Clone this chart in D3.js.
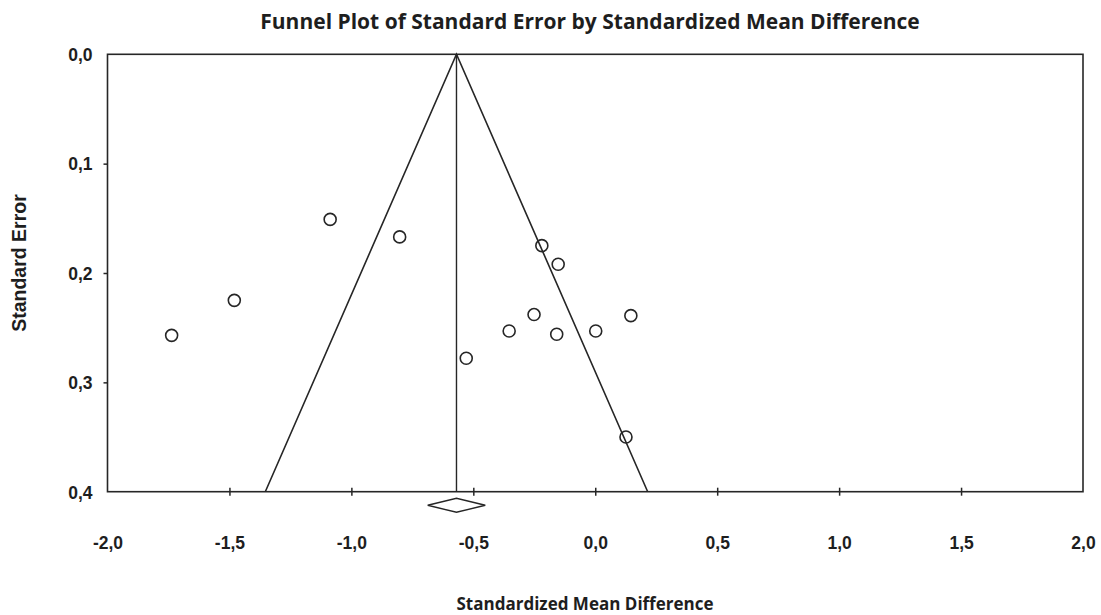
<!DOCTYPE html>
<html>
<head>
<meta charset="utf-8">
<script src="https://cdn.jsdelivr.net/npm/d3@7"></script>
<style>
  body { margin: 0; background: #fff; }
  svg { display: block; }
</style>
</head>
<body>
<div id="chart"></div>
<script>
// study effects (SMD) and their standard errors
const smd = [-1.737, -1.480, -1.087, -0.802, -0.219, -0.152, -0.251, -0.353, -0.158, 0.002, 0.146, -0.529, 0.126];
const stdErr = [0.257, 0.225, 0.151, 0.167, 0.175, 0.192, 0.238, 0.253, 0.256, 0.253, 0.239, 0.278, 0.350];
const pooled = -0.569;
const pooledCI = [-0.687, -0.451];
const xTicks = [-2.0, -1.5, -1.0, -0.5, 0.0, 0.5, 1.0, 1.5, 2.0];
const yTicks = [0.0, 0.1, 0.2, 0.3, 0.4];

const width = 1101, height = 615;
const margin = { top: 54.3, right: 18, bottom: 123.3, left: 107.5 };
const innerW = width - margin.left - margin.right;
const innerH = height - margin.top - margin.bottom;
const ink = "#262626";
const comma = d => d3.format(".1f")(d).replace(".", ",").replace("−", "-");

const svg = d3.select("#chart").append("svg")
  .attr("width", width)
  .attr("height", height);

const x = d3.scaleLinear().domain([-2, 2]).range([0, innerW]);
const y = d3.scaleLinear().domain([0, 0.4]).range([0, innerH]);

const g = svg.append("g")
  .attr("transform", `translate(${margin.left},${margin.top})`);

// frame
g.append("rect")
  .attr("width", innerW)
  .attr("height", innerH)
  .attr("fill", "none")
  .attr("stroke", ink)
  .attr("stroke-width", 1.6);

// bottom axis: short ticks crossing the line
const xAxis = g.append("g")
  .attr("transform", `translate(0,${innerH})`)
  .call(d3.axisBottom(x).tickValues(xTicks).tickSize(4).tickFormat(comma));
xAxis.select(".domain").remove();
xAxis.selectAll(".tick line").attr("y1", -4).attr("stroke", ink).attr("stroke-width", 1.5);
xAxis.selectAll(".tick text")
  .attr("y", 57)
  .attr("dy", 0)
  .style("font-family", "'Liberation Sans', Arial, sans-serif")
  .style("font-size", "17.5px")
  .style("font-weight", "bold")
  .attr("fill", "#1e1e1e");
xAxis.selectAll(".tick").filter(d => d === -2 || d === 2).select("line").remove();

const yAxis = g.append("g")
  .call(d3.axisLeft(y).tickValues(yTicks).tickSize(4).tickFormat(comma));
yAxis.select(".domain").remove();
yAxis.selectAll(".tick line").attr("stroke", ink).attr("stroke-width", 1.5);
yAxis.selectAll(".tick").filter(d => d === 0 || d === 0.4).select("line").remove();
yAxis.selectAll(".tick text")
  .attr("x", -15)
  .attr("dy", "0.36em")
  .style("font-family", "'Liberation Sans', Arial, sans-serif")
  .style("font-size", "17.5px")
  .style("font-weight", "bold")
  .attr("fill", "#1e1e1e");

// funnel (pooled +/- 1.96 SE) and the vertical line at pooled effect
const seMax = 0.4;
g.append("path")
  .attr("d", d3.line()([
    [x(pooled - 1.96 * seMax), y(seMax)],
    [x(pooled), y(0)],
    [x(pooled + 1.96 * seMax), y(seMax)]
  ]))
  .attr("fill", "none")
  .attr("stroke", ink)
  .attr("stroke-width", 1.6);

g.append("line")
  .attr("x1", x(pooled)).attr("x2", x(pooled))
  .attr("y1", y(0)).attr("y2", y(seMax))
  .attr("stroke", ink)
  .attr("stroke-width", 1.4);

// pooled diamond under the axis
const dy = innerH + 13.6;
g.append("path")
  .attr("d", d3.line()([
    [x(pooledCI[0]), dy],
    [x(pooled), dy - 7],
    [x(pooledCI[1]), dy],
    [x(pooled), dy + 7]
  ]) + "Z")
  .attr("fill", "#fff")
  .attr("stroke", ink)
  .attr("stroke-width", 1.4);

// studies
g.selectAll("circle.study")
  .data(smd.map((d, i) => ({ smd: d, se: stdErr[i] })))
  .join("circle")
  .attr("class", "study")
  .attr("cx", d => x(d.smd))
  .attr("cy", d => y(d.se))
  .attr("r", 6)
  .attr("fill", "none")
  .attr("stroke", ink)
  .attr("stroke-width", 1.6);

// titles
svg.append("text")
  .attr("x", 590)
  .attr("y", 29)
  .attr("text-anchor", "middle")
  .style("font-family", "'Open Sans', sans-serif")
  .style("font-size", "21px")
  .style("font-weight", "bold")
  .attr("fill", "#1e1e1e")
  .text("Funnel Plot of Standard Error by Standardized Mean Difference");

svg.append("text")
  .attr("x", 585)
  .attr("y", 610)
  .attr("text-anchor", "middle")
  .style("font-family", "'Open Sans', sans-serif")
  .style("font-size", "17px")
  .style("font-weight", "bold")
  .attr("fill", "#1e1e1e")
  .text("Standardized Mean Difference");

svg.append("text")
  .attr("transform", "translate(26,263) rotate(-90)")
  .attr("text-anchor", "middle")
  .style("font-family", "'Liberation Sans', Arial, sans-serif")
  .style("font-size", "19.5px")
  .style("font-weight", "bold")
  .attr("fill", "#1e1e1e")
  .text("Standard Error");
</script>
</body>
</html>
